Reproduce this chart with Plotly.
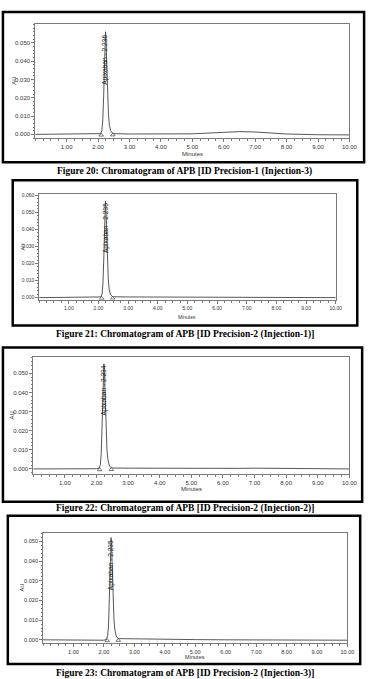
import plotly.graph_objects as go

W, H = 377, 679

# ---------------- data ----------------
captions = [
    "Figure 20: Chromatogram of APB [ID Precision-1 (Injection-3)",
    "Figure 21: Chromatogram of APB [ID Precision-2 (Injection-1)]",
    "Figure 22: Chromatogram of APB [ID Precision-2 (Injection-2)]",
    "Figure 23: Chromatogram of APB [ID Precision-2 (Injection-3)]",
]
peak_names = ["Apixaban - 2.236", "Apixaban - 2.235", "Apixaban - 2.234", "Apixaban - 2.235"]
peak_rt = [2.236, 2.235, 2.234, 2.235]
x_ticks = [1, 2, 3, 4, 5, 6, 7, 8, 9, 10]
x_tick_labels = ["1.00", "2.00", "3.00", "4.00", "5.00", "6.00", "7.00", "8.00", "9.00", "10.00"]

t1 = [0, 1.0, 2.0, 2.08, 2.12, 2.15, 2.18, 2.20, 2.22, 2.236, 2.25, 2.27, 2.30, 2.33, 2.36, 2.40, 2.45, 2.5,
      3.0, 4.0, 5.0, 5.5, 6.0, 6.5, 7.0, 7.5, 8.0, 9.0, 10.0]
au1 = [0, 0, 0.0001, 0.0004, 0.002, 0.008, 0.022, 0.036, 0.050, 0.056, 0.052, 0.040, 0.022, 0.011, 0.005,
       0.002, 0.0008, 0.0004, 0.0002, 0.0001, 0.0003, 0.0007, 0.0012, 0.0015, 0.0013, 0.0008, 0.0002,
       -0.0002, -0.0003]

t2 = [0, 1.0, 2.0, 2.08, 2.12, 2.15, 2.18, 2.20, 2.22, 2.235, 2.25, 2.27, 2.30, 2.33, 2.36, 2.40, 2.45, 2.5,
      3.0, 4.0, 5.0, 6.0, 7.0, 8.0, 9.0, 10.0]
au2 = [0, 0, 0.0001, 0.0004, 0.002, 0.008, 0.023, 0.037, 0.051, 0.0565, 0.053, 0.041, 0.023, 0.011, 0.005,
       0.002, 0.0009, 0.0005, 0.0004, 0.0004, 0.0003, 0.0002, 0.0001, 0.0001, 0.0, 0.0]

t3 = [0, 1.0, 2.0, 2.08, 2.12, 2.15, 2.18, 2.20, 2.22, 2.234, 2.25, 2.27, 2.30, 2.33, 2.36, 2.40, 2.45, 2.5,
      3.0, 4.0, 5.0, 6.0, 6.5, 7.0, 7.5, 8.0, 9.0, 10.0]
au3 = [0, 0, 0.0001, 0.0004, 0.002, 0.008, 0.022, 0.035, 0.049, 0.055, 0.051, 0.039, 0.021, 0.010, 0.005,
       0.002, 0.0008, 0.0005, 0.0004, 0.0003, 0.0002, 0.0002, 0.0003, 0.0004, 0.0003, 0.0001, 0.0, 0.0]

t4 = [0, 1.0, 2.0, 2.08, 2.12, 2.15, 2.18, 2.20, 2.22, 2.235, 2.25, 2.27, 2.30, 2.33, 2.36, 2.40, 2.45, 2.5,
      3.0, 4.0, 5.0, 6.0, 7.0, 8.0, 9.0, 10.0]
au4 = [0, -0.0001, -0.0002, 0.0002, 0.002, 0.007, 0.020, 0.033, 0.046, 0.052, 0.048, 0.037, 0.020, 0.010,
       0.005, 0.002, 0.0009, 0.0006, 0.0005, 0.0002, 0.0001, 0.0, 0.0, -0.0001, -0.0002, -0.0002]

series_t = [t1, t2, t3, t4]
series_au = [au1, au2, au3, au4]
peak_start = [2.10, 2.11, 2.10, 2.11]
peak_end = [2.47, 2.48, 2.47, 2.47]
y_ranges = [[-0.0022, 0.0603], [-0.0012, 0.0606], [-0.0026, 0.0583], [-0.0017, 0.0545]]
y_tick_top = [0.05, 0.06, 0.05, 0.05]
label_y = [0.041, 0.041, 0.041, 0.038]

# ---------------- layout (pixels) ----------------
plot_box = [  # x0, x1, y0(top), y1(bottom)
    (36, 357, 22, 137),
    (40, 343, 193, 299),
    (34, 357, 357, 474),
    (44, 355, 533, 644),
]
frames = [(3, 372, 10, 161), (13, 365, 179, 325), (3, 370, 347, 502), (8, 368, 516, 665)]
caption_y = [170, 334, 509, 674]
minutes_y = [153, 316, 489, 658]
au_x = [14, 23, 12, 22]
font_sz = [6, 5, 6, 5.6]


def px(x):
    return x / W


def py(y):
    return 1 - y / H


fig = go.Figure()
shapes = []
annotations = []
axis_color = "#7a7a7a"

for i in range(4):
    n = "" if i == 0 else str(i + 1)
    xa, ya = "x" + n, "y" + n
    x0, x1, y0, y1 = plot_box[i]
    tick_font = dict(family="Liberation Sans, Arial", size=font_sz[i], color="#333333")
    fig.add_trace(go.Scatter(x=series_t[i], y=series_au[i], mode="lines", xaxis=xa, yaxis=ya,
                             line=dict(color="#444444", width=0.9), hoverinfo="skip", showlegend=False))
    fig.add_trace(go.Scatter(x=[peak_start[i], peak_end[i]], y=[-0.0004, -0.0003], mode="markers",
                             xaxis=xa, yaxis=ya,
                             marker=dict(symbol="triangle-up-open", size=4, color="#444444",
                                         line=dict(width=0.7)),
                             hoverinfo="skip", showlegend=False))
    yticks = []
    k = 0
    while k * 0.01 <= y_tick_top[i] + 1e-9:
        yticks.append(round(k * 0.01, 3))
        k += 1
    fig.update_layout(**{
        "xaxis" + n: dict(domain=[px(x0), px(x1)], anchor=ya, range=[0, 10],
                          tickvals=x_ticks, ticktext=x_tick_labels, ticks="outside", ticklen=3,
                          tickwidth=0.7, tickcolor=axis_color, tickfont=tick_font,
                          showline=True, linecolor=axis_color, linewidth=0.8, mirror=True,
                          showgrid=False, zeroline=False,
                          minor=dict(dtick=0.25, ticks="outside", ticklen=2, tickcolor=axis_color,
                                     tickwidth=0.6, showgrid=False)),
        "yaxis" + n: dict(domain=[py(y1), py(y0)], anchor=xa, range=y_ranges[i],
                          tickvals=yticks, ticktext=["%.3f" % t for t in yticks],
                          ticks="outside", ticklen=3, tickwidth=0.7, tickcolor=axis_color,
                          tickfont=tick_font, showline=True, linecolor=axis_color, linewidth=0.8,
                          mirror=True, showgrid=False, zeroline=False,
                          minor=dict(dtick=0.002, ticks="outside", ticklen=1.5, tickcolor=axis_color,
                                     tickwidth=0.5, showgrid=False)),
    })
    annotations.append(dict(x=peak_rt[i], y=label_y[i], xref=xa, yref=ya, text=peak_names[i],
                            textangle=-90, showarrow=False, xanchor="center", yanchor="middle",
                            font=dict(family="Liberation Sans, Arial", size=6.6, color="#222222")))
    annotations.append(dict(x=px((x0 + x1) / 2), y=py(minutes_y[i]), xref="paper", yref="paper",
                            text="Minutes", showarrow=False, xanchor="center", yanchor="middle",
                            font=dict(family="Liberation Sans, Arial", size=font_sz[i], color="#333333")))
    annotations.append(dict(x=px(au_x[i]), y=py((y0 + y1) / 2), xref="paper", yref="paper",
                            text="AU", textangle=-90, showarrow=False, xanchor="center",
                            yanchor="middle",
                            font=dict(family="Liberation Sans, Arial", size=font_sz[i], color="#333333")))
    annotations.append(dict(x=0.5, y=py(caption_y[i]), xref="paper", yref="paper",
                            text="<b>" + captions[i] + "</b>", showarrow=False, xanchor="center",
                            yanchor="middle",
                            font=dict(family="Liberation Serif, Times New Roman", size=9.5,
                                      color="#000000")))
    fx0, fx1, fy0, fy1 = frames[i]
    shapes.append(dict(type="rect", xref="paper", yref="paper", x0=px(fx0), x1=px(fx1),
                       y0=py(fy1), y1=py(fy0), line=dict(color="#000000", width=2.5)))

fig.update_layout(width=W, height=H, margin=dict(l=0, r=0, t=0, b=0),
                  paper_bgcolor="white", plot_bgcolor="white",
                  shapes=shapes, annotations=annotations, showlegend=False)

fig.write_html("out.html")
